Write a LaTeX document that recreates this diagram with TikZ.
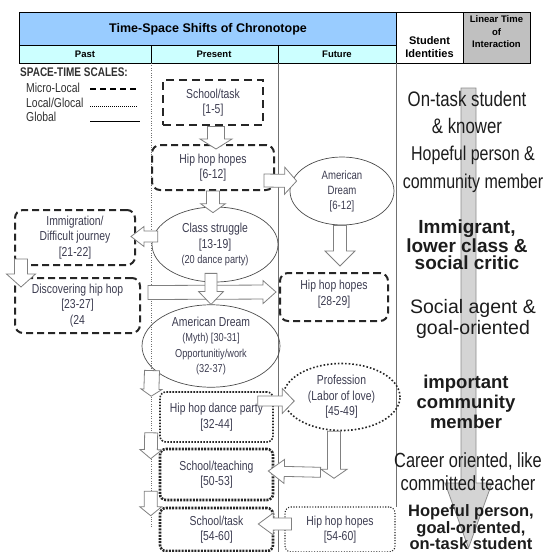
\documentclass[tikz,border=0pt]{standalone}
\usepackage{fontspec}
\setmainfont{Liberation Sans}
\newfontfamily\narrowFont[FakeStretch=0.8]{Liberation Sans}
\usetikzlibrary{shapes.geometric,calc}

% hollow block arrow: [options]{shaft half width}{head half width}{head length}{from}{to}
\newcommand{\blockArrow}[6][]{%
  \coordinate (arrowStart) at #5;
  \coordinate (arrowTip) at #6;
  \coordinate (arrowBase) at ($(arrowTip)!#4pt!(arrowStart)$);
  \draw[blockArrowStyle,#1] ($(arrowStart)!#2pt!90:(arrowTip)$) -- ($(arrowBase)!#2pt!-90:(arrowStart)$)
      -- ($(arrowBase)!#3pt!-90:(arrowStart)$) -- (arrowTip)
      -- ($(arrowBase)!#3pt!90:(arrowStart)$) -- ($(arrowBase)!#2pt!90:(arrowStart)$)
      -- ($(arrowStart)!#2pt!-90:(arrowTip)$) -- cycle;
}

\begin{document}
\begin{tikzpicture}[x=1pt, y=-1pt,
    boxText/.style={font=\narrowFont\fontsize{13}{15.5}\selectfont, text=nodeText, align=center, inner sep=0pt},
    microBox/.style={boxText, rectangle, draw=black!85, line width=2pt, dash pattern=on 7pt off 4pt, rounded corners=8pt},
    glocalBox/.style={boxText, rectangle, draw=black!85, line width=1.6pt, dash pattern=on 1.6pt off 1.4pt, rounded corners=6pt},
    globalOval/.style={boxText, ellipse, draw=black!70, line width=0.7pt},
    legendText/.style={anchor=west, inner sep=0pt, text=legendColour, font=\narrowFont\fontsize{13}{15}\selectfont},
    identityText/.style={align=center, inner sep=0pt, text=identityColour},
    blockArrowStyle/.style={draw=arrowColour, fill=white, line width=0.8pt, line join=miter}
  ]
    \definecolor{titleColour}{HTML}{99CCFF}
    \definecolor{rowColour}{HTML}{CCFFFF}
    \definecolor{timeColour}{HTML}{C0C0C0}
    \definecolor{timeFill}{HTML}{D4D4D4}
    \definecolor{lineColour}{HTML}{707070}
    \definecolor{arrowColour}{HTML}{808080}
    \definecolor{nodeText}{HTML}{3C3C50}
    \definecolor{legendColour}{HTML}{303030}
    \definecolor{identityColour}{HTML}{1C1C1C}

    \useasboundingbox (0,0) rectangle (545,552);

    % Header table
    \fill[titleColour] (19,12) rectangle (396,45);
    \fill[rowColour] (19,45) rectangle (396,63);
    \fill[timeColour] (463,12) rectangle (530,63);
    \draw (19,12) rectangle (530,63);
    \draw (19,45) -- (396,45);
    \draw (151,45) -- (151,63);
    \draw (278,45) -- (278,63);
    \draw (396,12) -- (396,63);
    \draw (463,12) -- (463,63);

    \node[font=\bfseries\fontsize{12.5}{14}\selectfont] (title) at (208,29) {Time-Space Shifts of Chronotope};
    \node[font=\bfseries\fontsize{9.5}{11}\selectfont] (past) at (85,54.5) {Past};
    \node[font=\bfseries\fontsize{9.5}{11}\selectfont] (present) at (214,54.5) {Present};
    \node[font=\bfseries\fontsize{9.5}{11}\selectfont] (future) at (337,54.5) {Future};
    \node[font=\bfseries\fontsize{11}{13.5}\selectfont, align=center] (student) at (429.5,47) {Student\\Identities};
    \node[font=\bfseries\fontsize{9.5}{12.5}\selectfont, align=center] (linear) at (496.5,32) {Linear Time\\of\\Interaction};

    % Column lines
    \draw[lineColour, dotted] (151,63) -- (151,527);
    \draw[lineColour, line width=0.8pt] (278,63) -- (278,552);
    \draw[lineColour, line width=0.8pt] (396,63) -- (396,507);

    % Linear time arrow
    \blockArrow[fill=timeFill, draw=black!45]{7.5}{23.5}{65}{(468.5,88)}{(468.5,548)}

    % Legend
    \node[anchor=west, inner sep=0pt, text=legendColour, font=\narrowFont\bfseries\fontsize{12.5}{14}\selectfont] (scales) at (20,72) {SPACE-TIME SCALES:};
    \node[legendText] (microKey) at (26,88) {Micro-Local};
    \node[legendText] (glocalKey) at (26,103) {Local/Glocal};
    \node[legendText] (globalKey) at (26,117) {Global};
    \draw[line width=1.6pt, dash pattern=on 6pt off 4pt] (90,89) -- (137,89);
    \draw[line width=1pt, dash pattern=on 1pt off 1pt] (90,106) -- (137,106);
    \draw[line width=0.6pt] (90,121) -- (140,121);

    % Chronotope nodes
    \node[microBox, rounded corners=0pt, line width=2.8pt, dash pattern=on 8pt off 5pt, minimum width=100, minimum height=45] (task1) at (213,102.5) {School/task\\{[1-5]}};
    \node[microBox, minimum width=122, minimum height=45] (hopes1) at (213,167.5) {Hip hop hopes\\{[6-12]}};
    \node[globalOval, minimum width=104, minimum height=68, font=\narrowFont\fontsize{12}{15}\selectfont] (dream1) at (342,191) {American\\Dream\\{[6-12]}};
    \node[globalOval, minimum width=126, minimum height=75] (struggle) at (215,244.5) {Class struggle\\{[13-19]}\\{\fontsize{11.5}{12}\selectfont(20 dance party)}};
    \node[microBox, minimum width=120, minimum height=55] (immig) at (75,237.5) {Immigration/\\Difficult journey\\{[21-22]}};
    \node[microBox, minimum width=125, minimum height=55] (discover) at (77.5,305.5) {Discovering hip hop\\{[23-27]}\\(24};
    \node[microBox, minimum width=108, minimum height=48, text depth=8pt] (hopes2) at (334,297) {Hip hop hopes\\{[28-29]}};
    \node[globalOval, minimum width=138, minimum height=82] (dream2) at (211,346) {American Dream\\{\fontsize{11.5}{13.5}\selectfont(Myth) [30-31]}\\{\fontsize{11.5}{13.5}\selectfont Opportunitiy/work}\\{\fontsize{11.5}{13.5}\selectfont(32-37)}};
    \node[glocalBox, minimum width=113, minimum height=50] (party) at (216.5,417) {Hip hop dance party\\{[32-44]}};
    \node[globalOval, draw=black!85, line width=1.6pt, dash pattern=on 1.6pt off 2pt, minimum width=117, minimum height=67] (prof) at (341.5,397) {Profession\\(Labor of love)\\{[45-49]}};
    \node[glocalBox, line width=2.6pt, dash pattern=on 2pt off 1.2pt, minimum width=113, minimum height=51] (teach) at (216.5,474.5) {School/teaching\\{[50-53]}};
    \node[glocalBox, line width=2.6pt, dash pattern=on 2pt off 1.2pt, minimum width=113, minimum height=43] (task2) at (216.5,529.5) {School/task\\{[54-60]}};
    \node[glocalBox, line width=1.1pt, dash pattern=on 1.1pt off 1.6pt, minimum width=110, minimum height=45] (hopes3) at (340,529.5) {Hip hop hopes\\{[54-60]}};

    % Block arrows between nodes
    \blockArrow{8.5}{16}{10}{($(task1.south)+(3,0)$)}{($(hopes1.north)+(3,5)$)}
    \blockArrow{6.5}{12.5}{9}{($(hopes1.south)+(0,0)$)}{($(struggle.north)+(-2,6)$)}
    \blockArrow{6.5}{13.5}{12}{($(hopes1.east)+(-11,13)$)}{($(dream1.west)+(7,-10)$)}
    \blockArrow{5.5}{10}{13}{($(struggle.west)+(6,-8)$)}{($(immig.east)+(-5,-1)$)}
    \blockArrow{6.5}{14.5}{13}{($(immig.south west)+(7,-7)$)}{($(discover.north west)+(7,10)$)}
    \blockArrow{7}{11.5}{13}{($(discover.east)+(7,-13)$)}{($(hopes2.west)+(-3,-5)$)}
    \blockArrow{6}{12.5}{13}{($(struggle.south)+(-4,-9)$)}{($(dream2.north)+(0,0)$)}
    \blockArrow{6.5}{15}{15}{($(dream1.south)+(-2,0)$)}{($(hopes2.north)+(6,-6)$)}
    \blockArrow{7.5}{10.5}{7}{($(dream2.south)+(-59,-17)$)}{($(party.north west)+(-8,5)$)}
    \blockArrow{5}{12.5}{12}{($(party.east)+(-16,-16)$)}{($(prof.west)+(12,4)$)}
    \blockArrow{6.5}{11}{9}{($(party.south west)+(-8,-10)$)}{($(teach.north west)+(-8,11)$)}
    \blockArrow{6.5}{11}{9}{($(teach.south west)+(-8,-10)$)}{($(task2.north west)+(-8,9)$)}
    \blockArrow{5}{12}{16}{($(prof.south)+(-21,41)$)}{($(teach.east)+(-6,-3.5)$)}
    \blockArrow{6.5}{13}{9}{($(prof.south)+(-7.5,0)$)}{($(prof.south)+(-7.5,47)$)}
    \blockArrow{6}{11}{15}{($(hopes3.west)+(7,-5.5)$)}{($(task2.east)+(-16,-5.5)$)}

    % Student identities
    \node[identityText, font=\narrowFont\fontsize{21}{27}\selectfont] (onTask) at (467,112) {On-task student\\\& knower};
    \node[identityText, font=\narrowFont\fontsize{20}{28}\selectfont] (hopeful) at (473,169) {Hopeful person \&\\community member};
    \node[identityText, font=\bfseries\fontsize{19}{17.5}\selectfont] (immigrant) at (467,245) {Immigrant,\\lower class \&\\social critic};
    \node[identityText, font=\fontsize{19.5}{21}\selectfont] (agent) at (473,318.5) {Social agent \&\\goal-oriented};
    \node[identityText, font=\bfseries\fontsize{18.5}{20}\selectfont] (important) at (466,402) {important\\community\\member};
    \node[identityText, font=\narrowFont\fontsize{20.5}{23}\selectfont] (career) at (468,471.5) {Career oriented, like\\committed teacher};
    \node[identityText, font=\bfseries\fontsize{16.5}{15}\selectfont] (hopefulGoal) at (471,527.5) {Hopeful person,\\goal-oriented,\\on-task student};

\end{tikzpicture}
\end{document}
